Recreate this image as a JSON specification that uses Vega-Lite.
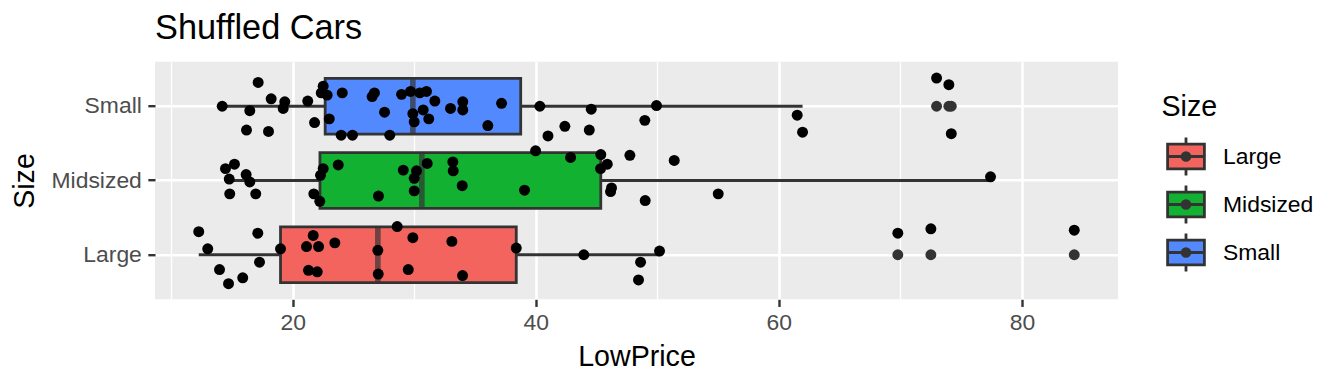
{
  "$schema": "https://vega.github.io/schema/vega-lite/v6.json",
  "width": 963,
  "height": 237.6,
  "autosize": {"type": "none"},
  "padding": {"left": 155, "top": 61.7, "right": 226, "bottom": 84.7},
  "title": {"text": "Shuffled Cars", "anchor": "start", "frame": "group", "fontSize": 34.3, "font": "Liberation Sans", "fontWeight": "normal", "color": "#000000", "baseline": "alphabetic", "offset": -12},
  "config": {"view": {"fill": "#EBEBEB", "stroke": null}, "font": "Liberation Sans"},
  "data": {"values": [
    {"Size": "Small", "LowPrice": 14.19, "jitter": 0.00},
    {"Size": "Small", "LowPrice": 17.15, "jitter": 0.32},
    {"Size": "Small", "LowPrice": 16.46, "jitter": -0.06},
    {"Size": "Small", "LowPrice": 18.22, "jitter": 0.10},
    {"Size": "Small", "LowPrice": 19.34, "jitter": 0.06},
    {"Size": "Small", "LowPrice": 19.21, "jitter": -0.03},
    {"Size": "Small", "LowPrice": 16.19, "jitter": -0.32},
    {"Size": "Small", "LowPrice": 18.00, "jitter": -0.34},
    {"Size": "Small", "LowPrice": 21.23, "jitter": 0.07},
    {"Size": "Small", "LowPrice": 21.79, "jitter": -0.22},
    {"Size": "Small", "LowPrice": 22.50, "jitter": 0.27},
    {"Size": "Small", "LowPrice": 22.34, "jitter": 0.18},
    {"Size": "Small", "LowPrice": 22.83, "jitter": 0.15},
    {"Size": "Small", "LowPrice": 23.00, "jitter": -0.17},
    {"Size": "Small", "LowPrice": 24.07, "jitter": 0.18},
    {"Size": "Small", "LowPrice": 23.98, "jitter": -0.39},
    {"Size": "Small", "LowPrice": 24.91, "jitter": -0.39},
    {"Size": "Small", "LowPrice": 26.72, "jitter": 0.18},
    {"Size": "Small", "LowPrice": 26.53, "jitter": 0.13},
    {"Size": "Small", "LowPrice": 27.55, "jitter": -0.08},
    {"Size": "Small", "LowPrice": 27.98, "jitter": -0.39},
    {"Size": "Small", "LowPrice": 28.95, "jitter": 0.16},
    {"Size": "Small", "LowPrice": 29.69, "jitter": 0.20},
    {"Size": "Small", "LowPrice": 29.88, "jitter": -0.10},
    {"Size": "Small", "LowPrice": 29.99, "jitter": -0.21},
    {"Size": "Small", "LowPrice": 30.45, "jitter": 0.18},
    {"Size": "Small", "LowPrice": 31.00, "jitter": 0.20},
    {"Size": "Small", "LowPrice": 31.69, "jitter": 0.07},
    {"Size": "Small", "LowPrice": 30.73, "jitter": -0.05},
    {"Size": "Small", "LowPrice": 31.19, "jitter": -0.17},
    {"Size": "Small", "LowPrice": 32.98, "jitter": -0.03},
    {"Size": "Small", "LowPrice": 33.99, "jitter": 0.06},
    {"Size": "Small", "LowPrice": 33.99, "jitter": -0.05},
    {"Size": "Small", "LowPrice": 37.18, "jitter": 0.04},
    {"Size": "Small", "LowPrice": 36.05, "jitter": -0.26},
    {"Size": "Small", "LowPrice": 40.33, "jitter": 0.00},
    {"Size": "Small", "LowPrice": 41.00, "jitter": -0.40},
    {"Size": "Small", "LowPrice": 44.56, "jitter": -0.04},
    {"Size": "Small", "LowPrice": 49.93, "jitter": 0.01},
    {"Size": "Small", "LowPrice": 48.97, "jitter": -0.19},
    {"Size": "Small", "LowPrice": 42.39, "jitter": -0.27},
    {"Size": "Small", "LowPrice": 44.40, "jitter": -0.32},
    {"Size": "Small", "LowPrice": 61.51, "jitter": -0.12},
    {"Size": "Small", "LowPrice": 61.95, "jitter": -0.35},
    {"Size": "Small", "LowPrice": 72.98, "jitter": 0.38},
    {"Size": "Small", "LowPrice": 73.99, "jitter": 0.29},
    {"Size": "Small", "LowPrice": 74.19, "jitter": -0.37},
    {"Size": "Midsized", "LowPrice": 14.46, "jitter": 0.16},
    {"Size": "Midsized", "LowPrice": 15.20, "jitter": 0.22},
    {"Size": "Midsized", "LowPrice": 14.77, "jitter": 0.02},
    {"Size": "Midsized", "LowPrice": 16.16, "jitter": 0.08},
    {"Size": "Midsized", "LowPrice": 16.46, "jitter": -0.02},
    {"Size": "Midsized", "LowPrice": 22.50, "jitter": 0.16},
    {"Size": "Midsized", "LowPrice": 22.28, "jitter": 0.07},
    {"Size": "Midsized", "LowPrice": 23.74, "jitter": 0.21},
    {"Size": "Midsized", "LowPrice": 29.09, "jitter": 0.14},
    {"Size": "Midsized", "LowPrice": 30.18, "jitter": 0.13},
    {"Size": "Midsized", "LowPrice": 29.99, "jitter": 0.03},
    {"Size": "Midsized", "LowPrice": 31.06, "jitter": 0.23},
    {"Size": "Midsized", "LowPrice": 33.17, "jitter": 0.25},
    {"Size": "Midsized", "LowPrice": 33.20, "jitter": 0.13},
    {"Size": "Midsized", "LowPrice": 39.98, "jitter": 0.40},
    {"Size": "Midsized", "LowPrice": 33.94, "jitter": -0.07},
    {"Size": "Midsized", "LowPrice": 39.07, "jitter": -0.13},
    {"Size": "Midsized", "LowPrice": 14.81, "jitter": -0.18},
    {"Size": "Midsized", "LowPrice": 16.95, "jitter": -0.18},
    {"Size": "Midsized", "LowPrice": 21.73, "jitter": -0.18},
    {"Size": "Midsized", "LowPrice": 22.22, "jitter": -0.28},
    {"Size": "Midsized", "LowPrice": 27.05, "jitter": -0.21},
    {"Size": "Midsized", "LowPrice": 29.99, "jitter": -0.14},
    {"Size": "Midsized", "LowPrice": 42.86, "jitter": 0.31},
    {"Size": "Midsized", "LowPrice": 45.35, "jitter": 0.35},
    {"Size": "Midsized", "LowPrice": 45.88, "jitter": 0.22},
    {"Size": "Midsized", "LowPrice": 45.33, "jitter": 0.16},
    {"Size": "Midsized", "LowPrice": 47.74, "jitter": 0.34},
    {"Size": "Midsized", "LowPrice": 51.39, "jitter": 0.27},
    {"Size": "Midsized", "LowPrice": 46.23, "jitter": -0.10},
    {"Size": "Midsized", "LowPrice": 46.15, "jitter": -0.15},
    {"Size": "Midsized", "LowPrice": 49.00, "jitter": -0.27},
    {"Size": "Midsized", "LowPrice": 55.01, "jitter": -0.18},
    {"Size": "Midsized", "LowPrice": 77.42, "jitter": 0.05},
    {"Size": "Large", "LowPrice": 12.26, "jitter": 0.31},
    {"Size": "Large", "LowPrice": 13.00, "jitter": 0.08},
    {"Size": "Large", "LowPrice": 13.97, "jitter": -0.20},
    {"Size": "Large", "LowPrice": 14.71, "jitter": -0.39},
    {"Size": "Large", "LowPrice": 15.88, "jitter": -0.31},
    {"Size": "Large", "LowPrice": 17.12, "jitter": 0.29},
    {"Size": "Large", "LowPrice": 17.26, "jitter": -0.10},
    {"Size": "Large", "LowPrice": 18.99, "jitter": 0.08},
    {"Size": "Large", "LowPrice": 21.68, "jitter": 0.26},
    {"Size": "Large", "LowPrice": 21.13, "jitter": 0.11},
    {"Size": "Large", "LowPrice": 22.12, "jitter": 0.11},
    {"Size": "Large", "LowPrice": 23.46, "jitter": 0.16},
    {"Size": "Large", "LowPrice": 21.29, "jitter": -0.21},
    {"Size": "Large", "LowPrice": 22.01, "jitter": -0.23},
    {"Size": "Large", "LowPrice": 27.00, "jitter": 0.06},
    {"Size": "Large", "LowPrice": 27.03, "jitter": -0.26},
    {"Size": "Large", "LowPrice": 28.59, "jitter": 0.38},
    {"Size": "Large", "LowPrice": 29.88, "jitter": 0.23},
    {"Size": "Large", "LowPrice": 29.50, "jitter": -0.20},
    {"Size": "Large", "LowPrice": 33.09, "jitter": 0.18},
    {"Size": "Large", "LowPrice": 33.97, "jitter": -0.28},
    {"Size": "Large", "LowPrice": 38.39, "jitter": 0.09},
    {"Size": "Large", "LowPrice": 43.95, "jitter": 0.00},
    {"Size": "Large", "LowPrice": 50.18, "jitter": 0.05},
    {"Size": "Large", "LowPrice": 48.62, "jitter": -0.10},
    {"Size": "Large", "LowPrice": 48.45, "jitter": -0.34},
    {"Size": "Large", "LowPrice": 69.79, "jitter": 0.29},
    {"Size": "Large", "LowPrice": 72.51, "jitter": 0.35},
    {"Size": "Large", "LowPrice": 84.31, "jitter": 0.33}
  ]},
  "layer": [
    {
      "mark": {
        "type": "boxplot",
        "extent": 1.5,
        "size": 55.7,
        "ticks": false,
        "outliers": false,
        "box": {"stroke": "#333333", "strokeWidth": 2.8},
        "median": {"color": "#333333", "thickness": 5.6},
        "rule": {"color": "#333333", "strokeWidth": 2.8}
      },
      "encoding": {
        "x": {
          "field": "LowPrice", "type": "quantitative",
          "scale": {"domain": [8.66, 87.91], "nice": false, "zero": false},
          "axis": {
            "values": [20, 40, 60, 80], "grid": true, "gridColor": "#FFFFFF", "gridWidth": 2.6,
            "domain": false, "ticks": true, "tickColor": "#333333", "tickWidth": 2.4, "tickSize": 7.15,
            "labelFont": "Liberation Sans", "labelFontSize": 22.9, "labelColor": "#4D4D4D", "labelPadding": 5.1,
            "title": "LowPrice", "titleFont": "Liberation Sans", "titleFontSize": 28.6, "titleFontWeight": "normal", "titleColor": "#000000",
            "titleBaseline": "alphabetic", "titleY": 66
          }
        },
        "y": {
          "field": "Size", "type": "nominal", "sort": ["Small", "Midsized", "Large"],
          "scale": {"paddingInner": 0, "paddingOuter": 0.1},
          "axis": {
            "grid": true, "gridColor": "#FFFFFF", "gridWidth": 2.6,
            "domain": false, "ticks": true, "tickColor": "#333333", "tickWidth": 2.4, "tickSize": 7.15,
            "labelFont": "Liberation Sans", "labelFontSize": 22.9, "labelColor": "#4D4D4D", "labelPadding": 6.5,
            "title": "Size", "titleFont": "Liberation Sans", "titleFontSize": 28.6, "titleFontWeight": "normal", "titleColor": "#000000",
            "titleBaseline": "alphabetic", "titleAngle": 270, "titleX": -121.5, "titleY": 118.8
          }
        },
        "color": {
          "field": "Size", "type": "nominal",
          "scale": {"domain": ["Large", "Midsized", "Small"], "range": ["#F4645F", "#13B132", "#5389FF"]},
          "legend": {
            "title": "Size", "orient": "none", "legendX": 1006.5, "legendY": 31.5, "padding": 0,
            "titleFont": "Liberation Sans", "titleFontSize": 28.6, "titleFontWeight": "normal", "titleColor": "#000000", "titlePadding": 11.7,
            "labelFont": "Liberation Sans", "labelFontSize": 22.9, "labelColor": "#000000", "labelOffset": 14, "symbolOffset": 1.5,
            "symbolType": "M-0.852,-0.575H0.852V0.575H-0.852ZM-0.852,0H0.852M0,-0.884V-0.575M0,0.575V0.884M-0.065,0A0.065,0.065,0,1,0,0.065,0A0.065,0.065,0,1,0,-0.065,0ZM-0.18,0A0.18,0.18,0,1,0,0.18,0A0.18,0.18,0,1,0,-0.18,0Z",
            "symbolSize": 1866, "symbolStrokeColor": "#333333", "symbolStrokeWidth": 2.8, "symbolOpacity": 1, "rowPadding": -5.1
          }
        }
      }
    },
    {
      "transform": [
        {"joinaggregate": [{"op": "q1", "field": "LowPrice", "as": "q1"}, {"op": "q3", "field": "LowPrice", "as": "q3"}], "groupby": ["Size"]},
        {"filter": "datum.LowPrice > datum.q3 + 1.5 * (datum.q3 - datum.q1) || datum.LowPrice < datum.q1 - 1.5 * (datum.q3 - datum.q1)"}
      ],
      "mark": {"type": "point", "filled": true, "color": "#333333", "size": 120, "opacity": 1},
      "encoding": {
        "x": {"field": "LowPrice", "type": "quantitative", "axis": null},
        "y": {"field": "Size", "type": "nominal", "sort": ["Small", "Midsized", "Large"]}
      }
    },
    {
      "mark": {"type": "point", "filled": true, "color": "#000000", "size": 120, "opacity": 1},
      "encoding": {
        "x": {
          "field": "LowPrice", "type": "quantitative",
          "axis": {"orient": "top", "values": [10, 30, 50, 70], "grid": true, "gridColor": "#FFFFFF", "gridWidth": 1.3, "labels": false, "ticks": false, "domain": false, "title": null}
        },
        "y": {"field": "Size", "type": "nominal", "sort": ["Small", "Midsized", "Large"]},
        "yOffset": {"field": "jitter", "type": "quantitative", "scale": {"domain": [0.5, -0.5]}}
      }
    }
  ],
  "resolve": {"axis": {"x": "independent"}}
}
